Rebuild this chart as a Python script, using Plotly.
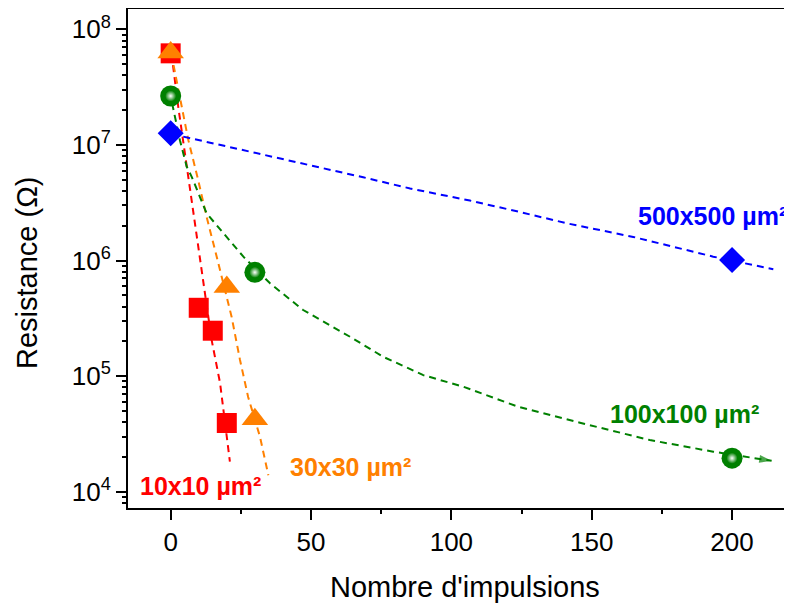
import plotly.graph_objects as go

# ---- measured data points ----
x_10 = [0, 10, 15, 20]
r_10 = [6.2e7, 3.9e5, 2.47e5, 3.93e4]
x_30 = [0, 20, 30]
r_30 = [6.3e7, 5.9e5, 4.24e4]
x_100 = [0, 30, 200]
r_100 = [2.65e7, 7.9e5, 1.95e4]
x_500 = [0, 200]
r_500 = [1.26e7, 1.01e6]

# ---- dashed guide curves ----
fit_x_10 = [0.1, 0.9, 2.7, 5.7, 8.1, 10.4, 12.2, 14.6, 17.6, 21.1]
fit_r_10 = [6.2e7, 4.74e7, 2.14e7, 6.5e6, 2.56e6, 1.08e6, 5.2e5, 2.05e5, 8.7e4, 1.82e4]
fit_x_30 = [0.2, 2.1, 3.9, 6.3, 9.8, 12.8, 16.4, 18.2, 21.7, 24.7, 27.6, 31.8, 34.8]
fit_r_30 = [6.2e7, 3.64e7, 2.14e7, 1.1e7, 4.97e6, 2.39e6, 1.08e6, 7.2e5, 3.27e5, 1.38e5, 6.6e4, 3.0e4, 1.39e4]
fit_x_100 = [0.5, 0.9, 3.3, 5.7, 7.5, 12.8, 25.9, 35.4, 47.2, 63.9, 75.7, 90.0, 104.2, 123.8, 145.8, 170.7, 193.3, 214.1]
fit_r_100 = [2.3e7, 2.07e7, 1.1e7, 6.5e6, 5.3e6, 2.56e6, 1.08e6, 6.35e5, 3.73e5, 2.19e5, 1.47e5, 1.02e5, 8.1e4, 5.43e4, 3.95e4, 2.8e4, 2.22e4, 1.85e4]
fit_x_500 = [4.5, 30.0, 38.9, 52.0, 68.6, 85.3, 106.6, 123.8, 141.1, 164.8, 193.3, 214.7]
fit_r_500 = [1.18e7, 8.6e6, 7.7e6, 6.5e6, 5.25e6, 4.2e6, 3.3e6, 2.65e6, 2.1e6, 1.6e6, 1.08e6, 8.4e5]

# tick values / labels
x_major = [0, 50, 100, 150, 200]
x_minor = [25, 75, 125, 175]
y_major = [1e4, 1e5, 1e6, 1e7, 1e8]
y_major_text = ["10<sup>4</sup>", "10<sup>5</sup>", "10<sup>6</sup>", "10<sup>7</sup>", "10<sup>8</sup>"]
y_minor = [m * 10 ** e for e in range(3, 8) for m in range(2, 10)]

labels = ["10x10 µm²", "30x30 µm²", "100x100 µm²", "500x500 µm²"]
label_x = [10.6, 64.2, 183.2, 193.2]
label_logy = [4.05, 4.21, 4.675, 6.385]

RED, ORANGE, GREEN, BLUE = "#FF0000", "#FF8000", "#008000", "#0000FF"
FONT = "Liberation Sans, Arial, sans-serif"
DASH = "7px,5px"
XR = [-15.2, 221.0]
YR = [3.859, 8.176]

# page has an 8px body margin -> figure is 784x597, plot area spans page x 128..791, y 9..508
W, H = 784, 597
ML, MR, MT, MB = 120, 1, 1, 97
PL, PR, PT, PB = 128, 791, 9, 508

fig = go.Figure()

# dashed guide curves
fig.add_trace(go.Scatter(x=fit_x_10, y=fit_r_10, mode="lines",
                         line=dict(color=RED, width=2, dash=DASH), showlegend=False))
fig.add_trace(go.Scatter(x=fit_x_30, y=fit_r_30, mode="lines",
                         line=dict(color=ORANGE, width=2, dash=DASH), showlegend=False))
n100 = len(fit_x_100)
fig.add_trace(go.Scatter(x=fit_x_100, y=fit_r_100, mode="lines+markers",
                         line=dict(color=GREEN, width=2, dash=DASH),
                         marker=dict(symbol=["circle"] * (n100 - 1) + ["arrow"],
                                     size=[0] * (n100 - 1) + [13],
                                     angleref="previous", color=GREEN,
                                     line=dict(width=0)),
                         showlegend=False))
fig.add_trace(go.Scatter(x=fit_x_500, y=fit_r_500, mode="lines",
                         line=dict(color=BLUE, width=2, dash=DASH), showlegend=False))

# markers
fig.add_trace(go.Scatter(x=x_10, y=r_10, mode="markers",
                         marker=dict(symbol="square", size=20, color=RED, line=dict(width=0)),
                         showlegend=False))
fig.add_trace(go.Scatter(x=x_30, y=r_30, mode="markers",
                         marker=dict(symbol="triangle-up", size=23, color=ORANGE, line=dict(width=0)),
                         showlegend=False))
fig.add_trace(go.Scatter(x=x_100, y=r_100, mode="markers",
                         marker=dict(symbol="circle", size=21, color=GREEN, line=dict(width=0)),
                         showlegend=False))
fig.add_trace(go.Scatter(x=x_100, y=r_100, mode="markers",
                         marker=dict(symbol="circle", size=11, color=GREEN,
                                     gradient=dict(type="radial", color="#FFFFFF"),
                                     line=dict(width=0)),
                         showlegend=False, hoverinfo="skip"))
fig.add_trace(go.Scatter(x=x_500, y=r_500, mode="markers",
                         marker=dict(symbol="diamond", size=20, color=BLUE, line=dict(width=0)),
                         showlegend=False))

# invisible trace to carry the minor-tick axes
fig.add_trace(go.Scatter(x=[x_major[0]], y=[y_major[0]], xaxis="x2", yaxis="y2",
                         mode="markers", marker=dict(size=0, opacity=0),
                         showlegend=False, hoverinfo="skip"))

colors = [RED, ORANGE, GREEN, BLUE]
annotations = []
for t, xx, yy, c in zip(labels, label_x, label_logy, colors):
    annotations.append(dict(x=xx, y=yy, xref="x", yref="y", text="<b>%s</b>" % t,
                            showarrow=False, font=dict(family=FONT, size=25, color=c),
                            xanchor="center", yanchor="middle"))
annotations.append(dict(x=(465 - PL) / (PR - PL), y=(PB - 587) / (PB - PT),
                        xref="paper", yref="paper",
                        text="Nombre d'impulsions", showarrow=False,
                        font=dict(family=FONT, size=29, color="black"),
                        xanchor="center", yanchor="middle"))
annotations.append(dict(x=(27 - PL) / (PR - PL), y=(PB - 273) / (PB - PT),
                        xref="paper", yref="paper",
                        text="Resistance (Ω)", showarrow=False, textangle=-90,
                        font=dict(family=FONT, size=29, color="black"),
                        xanchor="center", yanchor="middle"))

axis_common = dict(ticks="outside", tickcolor="black", tickwidth=1.5,
                   showgrid=False, zeroline=False, automargin=False)

fig.update_layout(
    template="none",
    width=W, height=H,
    margin=dict(l=ML, r=MR, t=MT, b=MB, pad=0, autoexpand=False),
    paper_bgcolor="white", plot_bgcolor="white",
    font=dict(family=FONT, color="black"),
    annotations=annotations,
    xaxis=dict(range=XR, tickvals=x_major, ticklen=10,
               showline=True, linewidth=2, linecolor="black", mirror=True,
               tickfont=dict(family=FONT, size=26, color="black"), **axis_common),
    yaxis=dict(type="log", range=YR, tickvals=y_major, ticktext=y_major_text,
               ticklen=10, showline=True, linewidth=2, linecolor="black", mirror=True,
               tickfont=dict(family=FONT, size=26, color="black"), **axis_common),
    xaxis2=dict(range=XR, tickvals=x_minor, ticklen=5, overlaying="x", side="bottom",
                anchor="y", showticklabels=False, showline=False, **axis_common),
    yaxis2=dict(type="log", range=YR, tickvals=y_minor, ticklen=5, overlaying="y",
                side="left", anchor="x", showticklabels=False, showline=False, **axis_common),
)

fig.write_html("out.html")
